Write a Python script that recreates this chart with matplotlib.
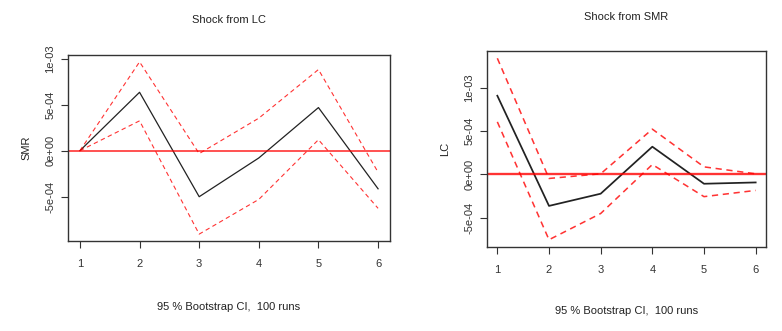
import matplotlib
matplotlib.use('agg')
import matplotlib.pyplot as plt

plt.rcParams['font.family'] = ['Liberation Sans', 'DejaVu Sans']

steps = [1, 2, 3, 4, 5, 6]

# Shock from LC -> response of SMR
lc_irf = [0.0, 6.34e-4, -5.0e-4, -0.79e-4, 4.68e-4, -4.14e-4]
lc_upper = [0.0, 9.64e-4, -0.32e-4, 3.53e-4, 8.81e-4, -2.34e-4]
lc_lower = [0.0, 3.24e-4, -9.06e-4, -5.29e-4, 1.19e-4, -6.26e-4]

# Shock from SMR -> response of LC
smr_irf = [9.1e-4, -3.63e-4, -2.22e-4, 3.21e-4, -1.07e-4, -0.92e-4]
smr_upper = [13.43e-4, -0.46e-4, 0.08e-4, 5.24e-4, 0.88e-4, 0.08e-4]
smr_lower = [6.08e-4, -7.54e-4, -4.51e-4, 1.15e-4, -2.56e-4, -1.84e-4]

y_ticks = [-5e-4, 0, 5e-4, 1e-3]
y_tick_labels = ['-5e-04', '0e+00', '5e-04', '1e-03']

W, H = 782, 331


def px_axes(fig, x0, y0, x1, y1):
    return fig.add_axes([x0 / W, 1 - y1 / H, (x1 - x0) / W, (y1 - y0) / H])


def irf_panel(ax, irf, upper, lower, title, ylabel, lw, title_pad):
    ax.plot(steps, irf, color='#222222', linewidth=lw * 0.9)
    ax.plot(steps, upper, color='red', linestyle=(0, (4, 3)), linewidth=lw * 0.8, alpha=0.8)
    ax.plot(steps, lower, color='red', linestyle=(0, (4, 3)), linewidth=lw * 0.8, alpha=0.8)
    ax.axhline(0, color='red', linewidth=lw * 1.2, alpha=0.8)
    lo = min(lower)
    hi = max(upper)
    pad = (hi - lo) * 0.04
    ax.set_ylim(lo - pad, hi + pad)
    ax.set_xlim(0.8, 6.2)
    ax.set_xticks(steps)
    ax.set_yticks(y_ticks)
    ax.set_yticklabels(y_tick_labels, rotation=90, va='center')
    ax.tick_params(direction='out', length=5, width=0.8, colors='#333333',
                   labelsize=8, pad=4)
    ax.tick_params(axis='x', pad=8)
    for s in ax.spines.values():
        s.set_color('#333333')
        s.set_linewidth(1.0)
    ax.set_title(title, fontsize=8, color='#222222', pad=title_pad)
    ax.set_ylabel(ylabel, fontsize=8, color='#222222', labelpad=10)
    ax.set_xlabel('95 % Bootstrap CI,  100 runs', fontsize=8, color='#222222', labelpad=24)


fig = plt.figure(figsize=(W / 100, H / 100), dpi=100)

ax1 = px_axes(fig, 68, 55, 390, 241)
irf_panel(ax1, lc_irf, lc_upper, lc_lower, 'Shock from LC', 'SMR', 1.0, 23)

ax2 = px_axes(fig, 487, 51, 766, 247)
irf_panel(ax2, smr_irf, smr_upper, smr_lower, 'Shock from SMR', 'LC', 1.4, 22)
ax2.xaxis.labelpad = 22

plt.savefig('out.png', dpi=100)
